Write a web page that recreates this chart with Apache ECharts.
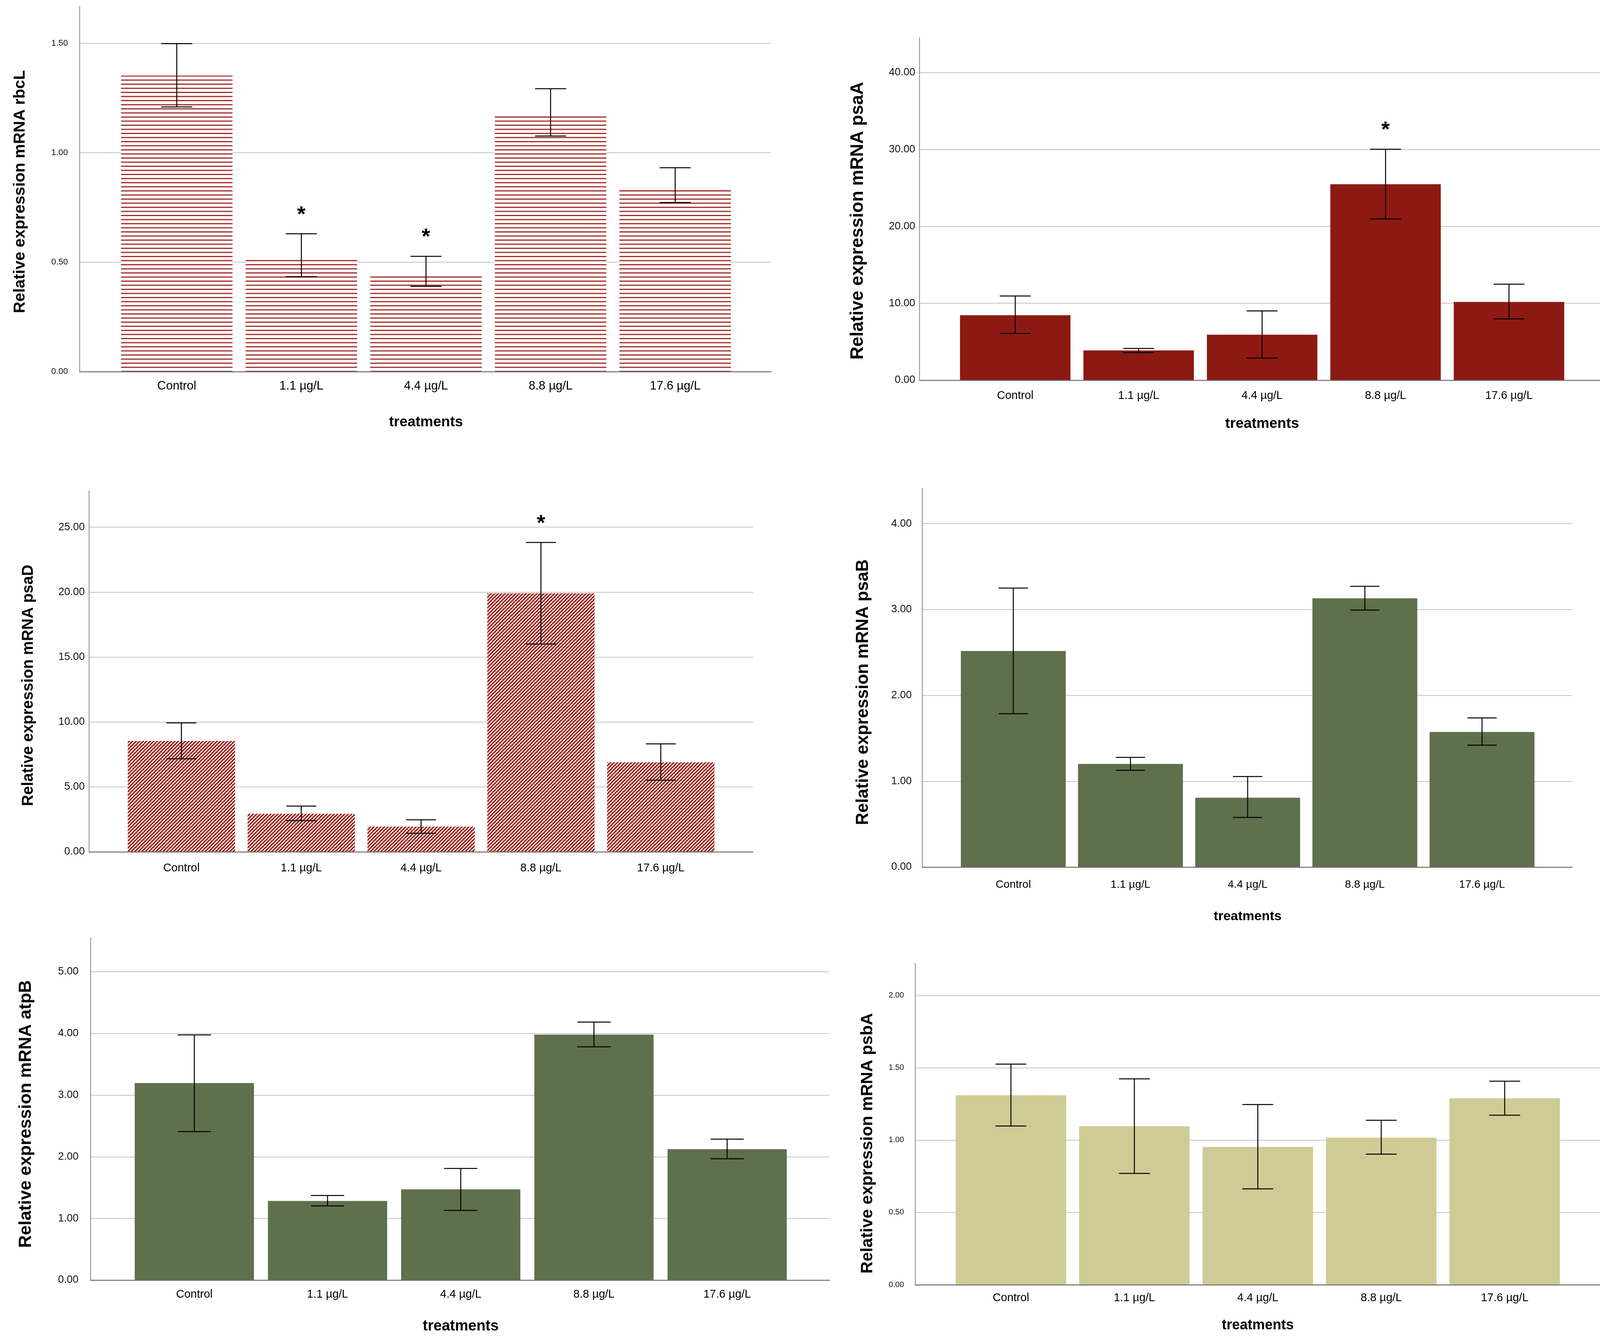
<!DOCTYPE html>
<html><head><meta charset="utf-8">
<script src="https://cdn.jsdelivr.net/npm/echarts@6/dist/echarts.min.js"></script>
<style>html,body{margin:0;padding:0;background:#fff;}#c{width:4128px;height:3437px;}</style>
</head><body><div id="c"></div>
<script>
// ---------- data ----------
const categories = ['Control', '1.1 \u00b5g/L', '4.4 \u00b5g/L', '8.8 \u00b5g/L', '17.6 \u00b5g/L'];
const xTitle = 'treatments';

const rbcLMean = [1.353, 0.520, 0.446, 1.173, 0.841];
const rbcLLow  = [1.210, 0.434, 0.390, 1.077, 0.773];
const rbcLHigh = [1.499, 0.630, 0.527, 1.293, 0.932];
const rbcLSig  = [false, true, true, false, false];
const rbcLTicks = [0, 0.5, 1.0, 1.5];

const psaAMean = [8.45, 3.87, 5.92, 25.47, 10.17];
const psaALow  = [6.07, 3.58, 2.87, 20.97, 7.97];
const psaAHigh = [10.95, 4.13, 9.01, 30.02, 12.48];
const psaASig  = [false, false, false, true, false];
const psaATicks = [0, 10, 20, 30, 40];

const psaDMean = [8.54, 2.93, 1.94, 19.90, 6.89];
const psaDLow  = [7.17, 2.40, 1.43, 16.00, 5.52];
const psaDHigh = [9.93, 3.52, 2.47, 23.82, 8.31];
const psaDSig  = [false, false, false, true, false];
const psaDTicks = [0, 5, 10, 15, 20, 25];

const psaBMean = [2.517, 1.201, 0.808, 3.130, 1.574];
const psaBLow  = [1.786, 1.128, 0.578, 2.994, 1.420];
const psaBHigh = [3.250, 1.278, 1.055, 3.270, 1.737];
const psaBSig  = [false, false, false, false, false];
const psaBTicks = [0, 1, 2, 3, 4];

const atpBMean = [3.194, 1.283, 1.472, 3.981, 2.122];
const atpBLow  = [2.408, 1.204, 1.129, 3.783, 1.968];
const atpBHigh = [3.976, 1.371, 1.810, 4.183, 2.285];
const atpBSig  = [false, false, false, false, false];
const atpBTicks = [0, 1, 2, 3, 4, 5];

const psbAMean = [1.310, 1.096, 0.953, 1.017, 1.289];
const psbALow  = [1.097, 0.770, 0.663, 0.903, 1.172];
const psbAHigh = [1.525, 1.423, 1.246, 1.137, 1.407];
const psbASig  = [false, false, false, false, false];
const psbATicks = [0, 0.5, 1.0, 1.5, 2.0];

// ---------- fills ----------
function hStripes() {
  const c = document.createElement('canvas'); c.width = 16; c.height = 21;
  const g = c.getContext('2d');
  g.fillStyle = '#ffffff'; g.fillRect(0, 0, 16, 21);
  g.fillStyle = '#a32a2a'; g.fillRect(0, 4, 16, 3); g.fillRect(0, 14.5, 16, 3);
  return { image: c, repeat: 'repeat' };
}
function dStripes() {
  const n = 9;
  const c = document.createElement('canvas'); c.width = n; c.height = n;
  const g = c.getContext('2d');
  g.fillStyle = '#9c1c12'; g.fillRect(0, 0, n, n);
  g.strokeStyle = '#ffffff'; g.lineWidth = 2.8;
  for (const k of [-n, 0, n]) { g.beginPath(); g.moveTo(k, n); g.lineTo(k + n, 0); g.stroke(); }
  return { image: c, repeat: 'repeat' };
}

const FONT = "'Liberation Sans', Arial, Helvetica, sans-serif";

// ---------- panel layouts ----------
const panels = [
  { gene: 'rbcL', mean: rbcLMean, low: rbcLLow, high: rbcLHigh, sig: rbcLSig, ticks: rbcLTicks, max: 1.67,
    fill: hStripes(), outer: [204, 16, 1974, 951], inner: [293, 1888],
    tickFont: 22, tickMargin: 30, catFont: 31, catMargin: 22, xName: true, xNameFont: 37, xNameGap: 111,
    yNameFont: 41, yNameGap: 132, yShift: 7 },
  { gene: 'psaA', mean: psaAMean, low: psaALow, high: psaAHigh, sig: psaASig, ticks: psaATicks, max: 44.5,
    fill: '#8d1a12', outer: [2354, 97, 4110, 973], inner: [2441, 4021],
    tickFont: 27, tickMargin: 11, catFont: 29, catMargin: 25, xName: true, xNameFont: 37, xNameGap: 93,
    yNameFont: 46, yNameGap: 135, yShift: 30 },
  { gene: 'psaD', mean: psaDMean, low: psaDLow, high: psaDHigh, sig: psaDSig, ticks: psaDTicks, max: 27.8,
    fill: dStripes(), outer: [228, 1256, 1928, 2180], inner: [311, 1845],
    tickFont: 27, tickMargin: 11, catFont: 29, catMargin: 27, xName: false, xNameFont: 37, xNameGap: 100,
    yNameFont: 40, yNameGap: 135, yShift: 36 },
  { gene: 'psaB', mean: psaBMean, low: psaBLow, high: psaBHigh, sig: psaBSig, ticks: psaBTicks, max: 4.41,
    fill: '#5f704c', outer: [2361, 1250, 4025, 2219], inner: [2444, 3944],
    tickFont: 27, tickMargin: 27, catFont: 28, catMargin: 31, xName: true, xNameFont: 34, xNameGap: 110,
    yNameFont: 44, yNameGap: 129, yShift: 37 },
  { gene: 'atpB', mean: atpBMean, low: atpBLow, high: atpBHigh, sig: atpBSig, ticks: atpBTicks, max: 5.55,
    fill: '#5f704c', outer: [232, 2400, 2123, 3276], inner: [327, 2032],
    tickFont: 27, tickMargin: 31, catFont: 29, catMargin: 22, xName: true, xNameFont: 38, xNameGap: 100,
    yNameFont: 45, yNameGap: 143, yShift: 13 },
  { gene: 'psbA', mean: psbAMean, low: psbALow, high: psbAHigh, sig: psbASig, ticks: psbATicks, max: 2.22,
    fill: '#cfcb95', outer: [2343, 2466, 4098, 3288], inner: [2430, 4010],
    tickFont: 20, tickMargin: 29, catFont: 29, catMargin: 19, xName: true, xNameFont: 36, xNameGap: 86,
    yNameFont: 43, yNameGap: 100, yShift: 49 }
];

const grid = [], xAxis = [], yAxis = [], series = [];

panels.forEach((p, k) => {
  const [L, T, R, B] = p.outer;
  const a = 2 * k, b = 2 * k + 1;
  const interval = p.ticks[1] - p.ticks[0];
  // outer frame grid: axis lines, gridlines, tick labels, y title
  grid.push({ left: L, top: T, width: R - L, height: B - T, containLabel: false });
  xAxis.push({ gridIndex: a, type: 'category', data: [''], z: 5,
    axisLine: { show: true, lineStyle: { color: '#6e6e6e', width: 2.5 } },
    axisTick: { show: false }, axisLabel: { show: false }, splitLine: { show: false } });
  yAxis.push({ gridIndex: a, type: 'value', min: p.ticks[0], max: p.max, interval: interval,
    name: 'Relative expression mRNA ' + p.gene, nameLocation: 'middle', nameRotate: 90, nameGap: p.yNameGap,
    nameTextStyle: { fontFamily: FONT, fontWeight: 'bold', fontSize: p.yNameFont, color: '#000',
      padding: [0, 2 * p.yShift, 0, 0] },
    axisLine: { show: true, lineStyle: { color: '#8a8a8a', width: 2 } },
    axisTick: { show: false },
    axisLabel: { show: true, showMaxLabel: false, margin: p.tickMargin, fontFamily: FONT,
      fontSize: p.tickFont, color: '#111', formatter: v => v.toFixed(2) },
    splitLine: { show: true, showMinLine: false, showMaxLine: false, lineStyle: { color: '#c4c4c4', width: 2 } } });
  // inner band grid: bars, error bars, category labels
  grid.push({ left: p.inner[0], top: T, width: p.inner[1] - p.inner[0], height: B - T, containLabel: false });
  xAxis.push({ gridIndex: b, type: 'category', data: categories,
    name: p.xName ? xTitle : '', nameLocation: 'middle', nameGap: p.xNameGap,
    nameTextStyle: { fontFamily: FONT, fontWeight: 'bold', fontSize: p.xNameFont, color: '#000' },
    axisLine: { show: false }, axisTick: { show: false },
    axisLabel: { margin: p.catMargin, fontFamily: FONT, fontSize: p.catFont, color: '#000', interval: 0 },
    splitLine: { show: false } });
  yAxis.push({ gridIndex: b, type: 'value', min: p.ticks[0], max: p.max, interval: interval, show: false,
    splitLine: { show: false } });

  series.push({ type: 'bar', xAxisIndex: b, yAxisIndex: b, data: p.mean,
    barCategoryGap: '10.5%', itemStyle: { color: p.fill }, silent: true, animation: false });

  series.push({ type: 'custom', xAxisIndex: b, yAxisIndex: b, z: 10, animation: false, silent: true,
    data: categories.map((c, i) => [i, p.low[i], p.high[i]]),
    encode: { x: 0, y: [1, 2] },
    renderItem: (params, api) => {
      const x = api.value(0);
      const lo = api.coord([x, api.value(1)]);
      const hi = api.coord([x, api.value(2)]);
      const w = api.size([1, 0])[0] * 0.125;
      const st = { stroke: '#000', lineWidth: 2.5 };
      return { type: 'group', children: [
        { type: 'line', shape: { x1: lo[0], y1: lo[1], x2: hi[0], y2: hi[1] }, style: st },
        { type: 'line', shape: { x1: lo[0] - w, y1: lo[1], x2: lo[0] + w, y2: lo[1] }, style: st },
        { type: 'line', shape: { x1: hi[0] - w, y1: hi[1], x2: hi[0] + w, y2: hi[1] }, style: st }
      ] };
    } });

  const sigData = categories.map((c, i) => p.sig[i] ? [i, p.high[i]] : null).filter(d => d);
  if (sigData.length) {
    series.push({ type: 'custom', xAxisIndex: b, yAxisIndex: b, z: 11, animation: false, silent: true,
      data: sigData, encode: { x: 0, y: 1 },
      renderItem: (params, api) => {
        const pt = api.coord([api.value(0), api.value(1)]);
        return { type: 'text', x: pt[0], y: pt[1] - 48,
          style: { text: '*', font: 'bold 56px ' + FONT, fill: '#000', align: 'center', verticalAlign: 'middle' } };
      } });
  }
});

const chart = echarts.init(document.getElementById('c'), null, { renderer: 'canvas', width: 4128, height: 3437 });
chart.setOption({ backgroundColor: '#ffffff', animation: false, grid, xAxis, yAxis, series });
</script>
</body></html>
